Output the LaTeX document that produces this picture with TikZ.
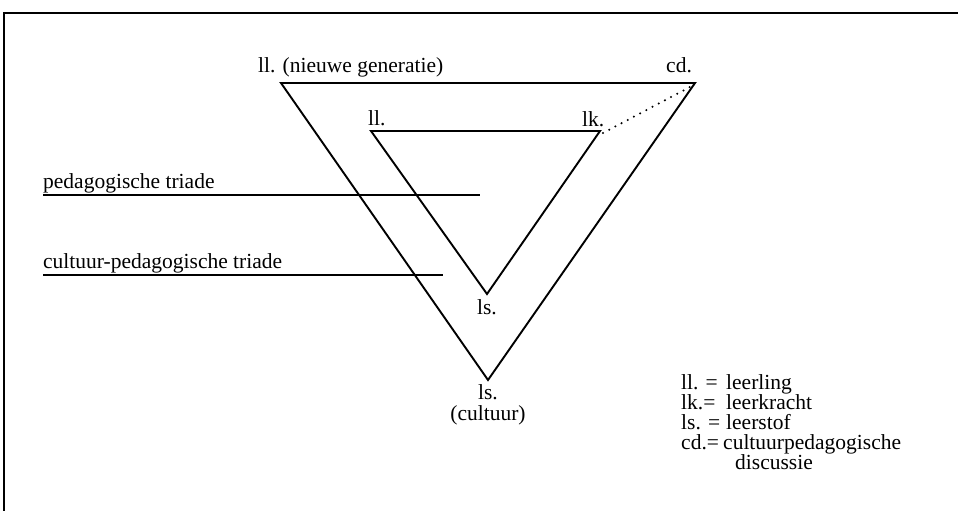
\documentclass[tikz,border=0pt]{standalone}
\usepackage{fontspec}
\setmainfont{Liberation Serif}
\begin{document}
\begin{tikzpicture}[x=1pt,y=-1pt,
  lbl/.style={inner sep=0pt,font=\fontsize{21.5}{25}\selectfont,text height=14pt,text depth=4pt},
  tri/.style={line width=1.9pt,line join=miter},
  frame/.style={line width=2pt},
  under/.style={line width=1.4pt},
  dots/.style={line width=2.3pt,dash pattern=on 0pt off 7pt,line cap=round}]
\useasboundingbox (0,0) rectangle (958,511);
% frame
\coordinate (f1) at (4,511);
\coordinate (f2) at (4,13);
\coordinate (f3) at (958,13);
\draw[frame] (f1) -- (f2) -- (f3);
% outer triangle
\coordinate (oA) at (281,83);
\coordinate (oB) at (695,83);
\coordinate (oC) at (488,380);
\draw[tri] (oA) -- (oB) -- (oC) -- cycle;
% inner triangle
\coordinate (iA) at (371,131);
\coordinate (iB) at (600,131);
\coordinate (iC) at (487,294);
\draw[tri] (iA) -- (iB) -- (iC) -- cycle;
% dotted link
\coordinate (d1) at (603,133);
\coordinate (d2) at (690,87);
\draw[dots] (d1) -- (d2);
% vertex labels
\node[lbl,anchor=base west] (nll) at (258,72) {ll. (nieuwe generatie)};
\node[lbl,anchor=base west] (ncd) at (666,72) {cd.};
\node[lbl,anchor=base west] (ill) at (368,125) {ll.};
\node[lbl,anchor=base west] (ilk) at (582,126) {lk.};
\node[lbl,anchor=base] (ils) at (487,314) {ls.};
\node[lbl,anchor=base] (ols) at (488,399) {ls.};
\node[lbl,anchor=base] (ocu) at (488,420) {(cultuur)};
% left labels
\node[lbl,anchor=base west] (ped) at (43,188) {pedagogische triade};
\coordinate (p1) at (43,195);
\coordinate (p2) at (480,195);
\draw[under] (p1) -- (p2);
\node[lbl,anchor=base west] (cul) at (43,268) {cultuur-pedagogische triade};
\coordinate (c1) at (43,275);
\coordinate (c2) at (443,275);
\draw[under] (c1) -- (c2);
% legend
\node[lbl,anchor=base west] (k1) at (681,389) {ll. =};
\node[lbl,anchor=base west] (v1) at (726,389) {leerling};
\node[lbl,anchor=base west] (k2) at (681,409) {lk.=};
\node[lbl,anchor=base west] (v2) at (726,409) {leerkracht};
\node[lbl,anchor=base west] (k3) at (681,429) {ls. =};
\node[lbl,anchor=base west] (v3) at (726,429) {leerstof};
\node[lbl,anchor=base west] (k4) at (681,449) {cd.=};
\node[lbl,anchor=base west] (v4) at (723,449) {cultuurpedagogische};
\node[lbl,anchor=base west] (v5) at (735,469) {discussie};
\end{tikzpicture}
\end{document}
